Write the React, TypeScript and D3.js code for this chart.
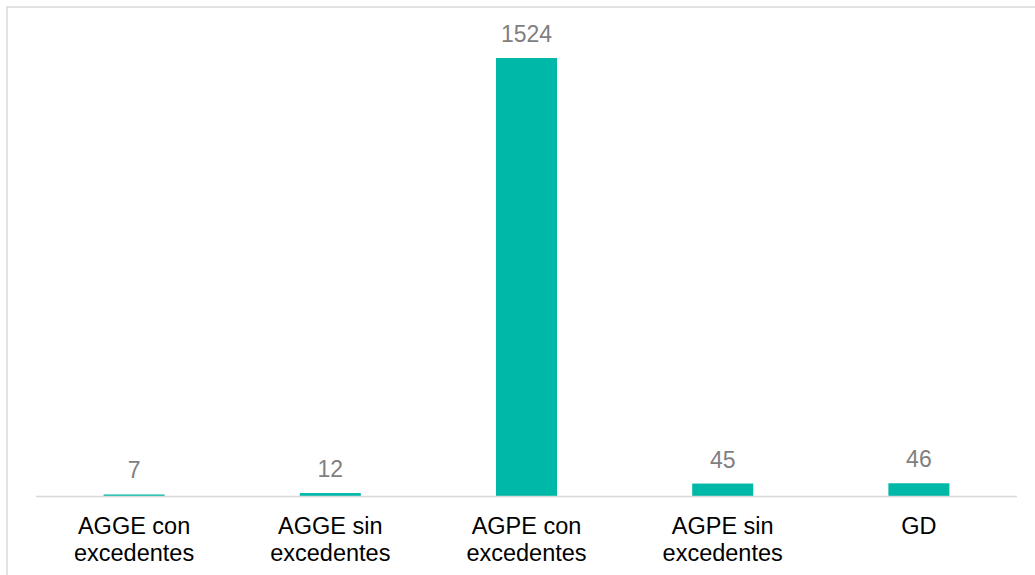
import React from "react";
import * as d3 from "d3";

const categories = [
  "AGGE con excedentes",
  "AGGE sin excedentes",
  "AGPE con excedentes",
  "AGPE sin excedentes",
  "GD",
];
const values = [7, 12, 1524, 45, 46];

const W = 1035;
const H = 575;

function splitLabel(name: string): string[] {
  const idx = name.lastIndexOf(" ");
  if (idx < 0) return [name];
  return [name.slice(0, idx), name.slice(idx + 1)];
}

export default function App() {
  const x = d3
    .scaleBand<string>()
    .domain(categories)
    .range([36, 1017])
    .paddingInner(0.689)
    .paddingOuter(0.3445);
  const y = d3.scaleLinear().domain([0, 1524]).range([496.5, 58]);

  return (
    <svg
      width={W}
      height={H}
      style={{ position: "absolute", left: 0, top: 0, background: "#fff" }}
    >
      <rect x={7} y={7} width={1100} height={700} fill="#fff" stroke="#d9d9d9" strokeWidth={1.5} />
      {categories.map((c, i) => {
        const v = values[i];
        const bx = x(c)!;
        const bw = x.bandwidth();
        const top = y(v);
        return (
          <g key={c}>
            <rect x={bx} y={top} width={bw} height={y(0) - top} fill="#00b8a8" />
            <text
              x={bx + bw / 2}
              y={top - 16}
              textAnchor="middle"
              fontFamily="'Liberation Sans', Arial, sans-serif"
              fontSize={23}
              fill="#7f7f7f"
            >
              {v}
            </text>
          </g>
        );
      })}
      <line x1={36} x2={1017} y1={y(0)} y2={y(0)} stroke="#d9d9d9" strokeWidth={1.5} />
      {categories.map((c) => {
        const cx = x(c)! + x.bandwidth() / 2;
        const lines = splitLabel(c);
        return (
          <text
            key={c + "-lbl"}
            textAnchor="middle"
            fontFamily="'Liberation Sans', Arial, sans-serif"
            fontSize={23.5}
            fill="#000"
          >
            {lines.map((line, j) => (
              <tspan key={j} x={cx} y={534 + j * 27}>
                {line}
              </tspan>
            ))}
          </text>
        );
      })}
    </svg>
  );
}
